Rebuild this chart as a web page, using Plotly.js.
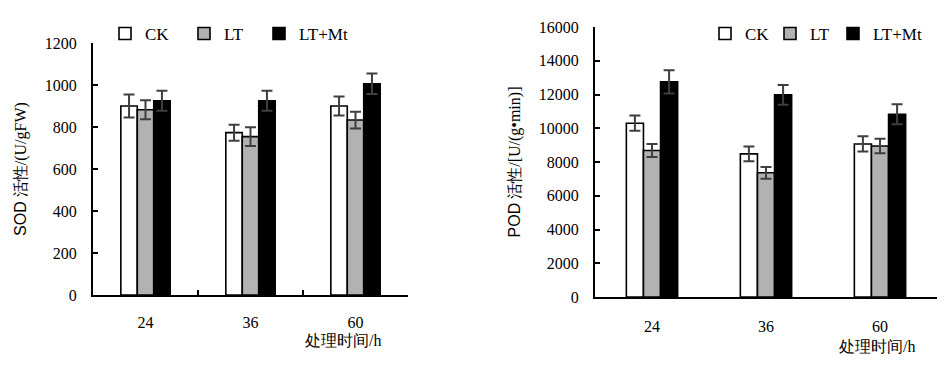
<!DOCTYPE html>
<html>
<head>
<meta charset="utf-8">
<script src="https://cdn.plot.ly/plotly-3.0.1.min.js"></script>
<style>
  html, body { margin: 0; padding: 0; background: #fff; }
  #wrap { width: 948px; height: 365px; position: relative; }
  #sod { position: absolute; left: 0; top: 0; width: 474px; height: 365px; }
  #pod { position: absolute; left: 474px; top: 0; width: 474px; height: 365px; }
</style>
</head>
<body>
<div id="wrap"><div id="sod"></div><div id="pod"></div></div>
<script>
// ---- data ----
const categories = ['24', '36', '60'];
const seriesNames = ['CK', 'LT', 'LT+Mt'];

const sodCK = [900, 773, 900];
const sodLT = [882, 754, 833];
const sodLTMt = [925, 925, 1006];
const sodCKErr = [55, 38, 45];
const sodLTErr = [45, 45, 40];
const sodLTMtErr = [48, 48, 49];

const podCK = [10300, 8480, 9070];
const podLT = [8680, 7360, 8950];
const podLTMt = [12750, 11980, 10830];
const podCKErr = [450, 440, 450];
const podLTErr = [390, 350, 430];
const podLTMtErr = [690, 590, 590];

const sodTicks = [0, 200, 400, 600, 800, 1000, 1200];
const podTicks = [0, 2000, 4000, 6000, 8000, 10000, 12000, 14000, 16000];

// ---- styles ----
const fills = ['#ffffff', '#b2b2b2', '#000000'];
const serif = '"Liberation Serif", "Times New Roman", serif';
const errColor = '#3f3f3f';
const legendIds = ['legend', 'legend2', 'legend3'];

function makeTraces(vals, errs) {
  return vals.map((v, i) => ({
    type: 'bar',
    name: seriesNames[i],
    legend: legendIds[i],
    x: categories,
    y: v,
    marker: { color: fills[i], line: { color: '#000', width: 1.6 } },
    error_y: { type: 'data', array: errs[i], visible: true, color: errColor, thickness: 2, width: 5.5 },
    hoverinfo: 'skip'
  }));
}

function legendAt(px) {
  return {
    orientation: 'h',
    xref: 'container', yref: 'container',
    x: px / 474, y: 0.907, xanchor: 'left', yanchor: 'middle',
    font: { family: serif, size: 17, color: '#000' },
    bgcolor: 'rgba(0,0,0,0)', borderwidth: 0
  };
}

function layoutFor(opts) {
  const lay = {
    width: 474, height: 365,
    paper_bgcolor: '#fff', plot_bgcolor: '#fff',
    margin: Object.assign({ pad: 0, autoexpand: false }, opts.margin),
    barmode: 'group',
    bargap: opts.bargap,
    bargroupgap: 0,
    showlegend: true,
    font: { family: serif, size: 16, color: '#000' },
    xaxis: {
      type: 'category',
      showline: true, linecolor: '#000', linewidth: 2,
      ticks: opts.xticks, tickson: 'boundaries', ticklen: 5, tickwidth: 2, tickcolor: '#000',
      showgrid: false, zeroline: false,
      tickfont: { family: serif, size: 16, color: '#000' },
      ticklabelstandoff: opts.xstandoff,
      fixedrange: true
    },
    yaxis: {
      range: opts.yrange,
      tickvals: opts.ytickvals,
      ticktext: opts.ytickvals.map(String),
      showline: true, linecolor: '#000', linewidth: 2,
      ticks: 'inside', ticklen: 5, tickwidth: 2, tickcolor: '#000',
      showgrid: false, zeroline: false,
      tickfont: { family: serif, size: 16, color: '#000' },
      ticklabelstandoff: 11,
      title: { text: opts.ytitle, font: { family: serif, size: 16, color: '#000' }, standoff: opts.ystandoff },
      fixedrange: true
    },
    annotations: [{
      text: '处理时间/h', xref: 'paper', yref: 'paper',
      x: opts.xtitleX, y: opts.xtitleY, xanchor: 'center', yanchor: 'middle',
      showarrow: false, borderpad: 0, font: { family: serif, size: 16, color: '#000' }
    }]
  };
  legendIds.forEach((id, i) => { lay[id] = legendAt(opts.legendPx[i]); });
  return lay;
}

const config = { staticPlot: true, displayModeBar: false };

Plotly.newPlot('sod', makeTraces([sodCK, sodLT, sodLTMt], [sodCKErr, sodLTErr, sodLTMtErr]), layoutFor({
  margin: { l: 93, r: 66, t: 43, b: 70 },
  bargap: 0.53,
  legendPx: [105, 184, 259],
  xticks: 'inside',
  xstandoff: 12,
  yrange: [0, 1200],
  ytickvals: sodTicks,
  ytitle: '<span style="font-family:\'Liberation Sans\', Arial, sans-serif">SOD</span> 活性/(U/gFW)',
  ystandoff: 14,
  xtitleX: 0.795, xtitleY: -0.18
}), config);

Plotly.newPlot('pod', makeTraces([podCK, podLT, podLTMt], [podCKErr, podLTErr, podLTMtErr]), layoutFor({
  margin: { l: 121, r: 11, t: 27, b: 68 },
  bargap: 0.55,
  legendPx: [231, 296, 359],
  xticks: '',
  xstandoff: 14,
  yrange: [0, 16000],
  ytickvals: podTicks,
  ytitle: '<span style="font-family:\'Liberation Sans\', Arial, sans-serif">POD</span> 活性/[U/(g•min)]',
  ystandoff: 14,
  xtitleX: 0.824, xtitleY: -0.185
}), config);
</script>
</body>
</html>
